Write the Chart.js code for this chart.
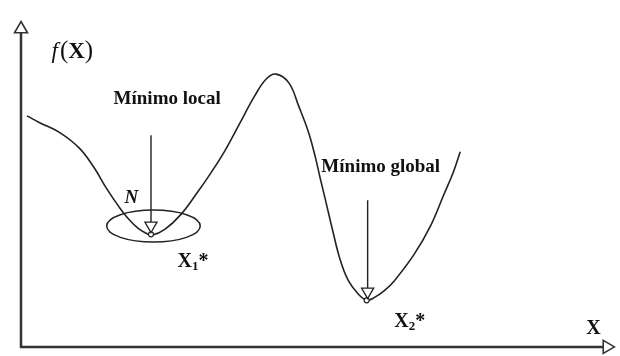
<!DOCTYPE html>
<html><head><meta charset="utf-8">
<script src="https://cdn.jsdelivr.net/npm/chart.js@4/dist/chart.umd.min.js"></script>
<style>html,body{margin:0;padding:0;background:#fff}</style>
</head><body>
<canvas id="c" width="620" height="356"></canvas>
<script>
// curve f(X) (x from the vertical axis, y up from the horizontal axis)
const curveX = [6,19,39,59,74,87,99,109,119,127,133,146,162,179,192,207,222,237,249,259,272,282,292,299,304,309,316,324,332,342,351,359,369,379,399,416,429,439,446];
const curveY = [238,231,221,205,185,163,145,132,122,117,115,121,136,159,178,202,230,258,276,281,272,248,221,195,173,152,122,90,69,55,48,51,58,68,95,125,156,180,201];
// minima
const minimaX = [132, 351];
const minimaY = [116, 48];
// arrows pointing at the minima
const arrowX = [132, 352];
const arrowTop = [218, 151];
const arrowBase = [128, 60.5];
const arrowHeadY = [125, 57];
// neighbourhood N around the local minimum
const neighbourhood = {cx: 134.5, cy: 124.5, rx: 47.5, ry: 16.5};
// axes extent
const xAxisEnd = 591, yAxisEnd = 324;
const axisHeadsX = [0, 595], axisHeadsY = [327.5, 0], axisHeadsRot = [0, 90];
// labels
const labels = [
  {text: 'Mínimo local', x: 94, y: 250},
  {text: 'Mínimo global', x: 305, y: 180}
];

const pts = (xs, ys) => xs.map((x, i) => ({x, y: ys[i]}));
const ink = '#222';

const overlay = {
  id: 'overlay',
  beforeDatasetsDraw(chart) {
    const {ctx, scales: {x, y}} = chart;
    const n = neighbourhood;
    const cx = x.getPixelForValue(n.cx), cy = y.getPixelForValue(n.cy);
    const rx = x.getPixelForValue(n.cx + n.rx) - cx, ry = cy - y.getPixelForValue(n.cy + n.ry);
    ctx.save();
    ctx.beginPath();
    ctx.ellipse(cx, cy, rx, ry, 0, 0, Math.PI * 2);
    ctx.lineWidth = 1.5; ctx.strokeStyle = ink; ctx.stroke();
    ctx.restore();
  },
  afterDatasetsDraw(chart) {
    const {ctx, scales: {x, y}} = chart;
    const X = v => x.getPixelForValue(v), Y = v => y.getPixelForValue(v);
    ctx.save();
    ctx.fillStyle = '#111';
    ctx.textBaseline = 'alphabetic';
    ctx.textAlign = 'left';
    ctx.font = 'bold 19px "Liberation Serif"';
    labels.forEach(l => ctx.fillText(l.text, X(l.x), Y(l.y)));
    // N
    ctx.font = 'italic bold 19px "Liberation Serif"';
    ctx.fillText('N', X(105), Y(148));
    // X1*, X2*
    const sub = (s, px, py) => {
      ctx.font = 'bold 20px "Liberation Serif"';
      ctx.fillText('X', px, py);
      let w = ctx.measureText('X').width;
      ctx.font = 'bold 13px "Liberation Serif"';
      ctx.fillText(s, px + w, py + 3);
      w += ctx.measureText(s).width;
      ctx.font = 'bold 20px "Liberation Serif"';
      ctx.fillText('*', px + w, py);
    };
    sub('1', X(159), Y(82));
    sub('2', X(379), Y(20));
    // axis label X
    ctx.font = 'bold 20px "Liberation Serif"';
    ctx.fillText('X', X(574), Y(13));
    // f(X)
    let px = X(31), py = Y(298);
    ctx.font = 'italic 23px "Liberation Serif"';
    ctx.fillText('f', px, py); px += ctx.measureText('f').width + 2;
    ctx.font = '25px "Liberation Serif"';
    ctx.fillText('(', px, py); px += ctx.measureText('(').width;
    ctx.font = 'bold 23px "Liberation Serif"';
    ctx.fillText('X', px, py); px += ctx.measureText('X').width;
    ctx.font = '25px "Liberation Serif"';
    ctx.fillText(')', px, py);
    ctx.restore();
  }
};

new Chart(document.getElementById('c'), {
  type: 'scatter',
  data: {
    datasets: [
      {data: pts(arrowX, arrowHeadY), pointStyle: 'triangle', pointRotation: 180, pointRadius: 7,
       pointBackgroundColor: '#fff', pointBorderColor: ink, pointBorderWidth: 1.3, showLine: false, clip: false},
      {data: pts(axisHeadsX, axisHeadsY), pointStyle: 'triangle', pointRotation: axisHeadsRot, pointRadius: 7.5,
       pointBackgroundColor: '#fff', pointBorderColor: '#333', pointBorderWidth: 1.6, showLine: false, clip: false},
      {data: pts(minimaX, minimaY), pointStyle: 'circle', pointRadius: 2.5,
       pointBackgroundColor: '#fff', pointBorderColor: ink, pointBorderWidth: 1.2, showLine: false, clip: false},
      {data: pts(curveX, curveY), showLine: true, borderColor: ink, borderWidth: 1.6, pointRadius: 0,
       tension: 0.4, fill: false, clip: false},
      {data: [{x: arrowX[0], y: arrowTop[0]}, {x: arrowX[0], y: arrowBase[0]}], showLine: true,
       borderColor: ink, borderWidth: 1.4, pointRadius: 0, clip: false},
      {data: [{x: arrowX[1], y: arrowTop[1]}, {x: arrowX[1], y: arrowBase[1]}], showLine: true,
       borderColor: ink, borderWidth: 1.4, pointRadius: 0, clip: false},
      {data: [{x: 0, y: yAxisEnd}, {x: 0, y: 0}, {x: xAxisEnd, y: 0}], showLine: true,
       borderColor: '#333', borderWidth: 2.5, pointRadius: 0, clip: false, tension: 0}
    ]
  },
  options: {
    responsive: false,
    animation: false,
    layout: {padding: {left: 21, right: 0, top: 0, bottom: 8}},
    plugins: {legend: {display: false}, tooltip: {enabled: false}},
    events: [],
    scales: {
      x: {type: 'linear', display: false, min: 0, max: 599},
      y: {type: 'linear', display: false, min: 0, max: 348}
    }
  },
  plugins: [overlay]
});
</script>
</body></html>
